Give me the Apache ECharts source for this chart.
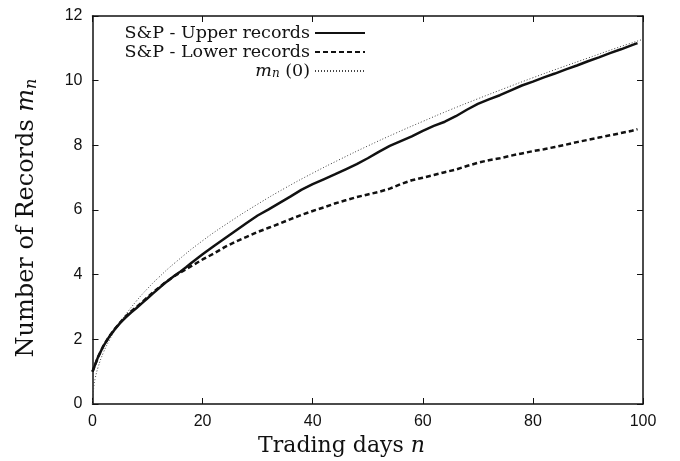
<!DOCTYPE html>
<html>
<head>
<meta charset="utf-8">
<script src="https://cdn.jsdelivr.net/npm/echarts@6/dist/echarts.min.js"></script>
<style>html,body{margin:0;padding:0;background:#fff}#c{width:680px;height:461px}</style>
</head>
<body>
<div id="c"></div>
<script>
// ---- data ----
const upperDays = [0,1,2,3,4,5,6,7,8,9,10,11,12,13,14,15,16,17,18,19,20,22,24,26,28,30,32,34,36,38,40,42,44,46,48,50,52,54,56,58,60,62,64,66,68,70,72,74,76,78,80,82,84,86,88,90,92,94,96,98,99];
const upperVals = [1.0,1.45,1.8,2.07,2.3,2.5,2.67,2.83,2.97,3.12,3.27,3.42,3.57,3.72,3.85,3.98,4.1,4.23,4.37,4.5,4.63,4.88,5.12,5.36,5.6,5.83,6.02,6.22,6.42,6.63,6.8,6.95,7.1,7.26,7.42,7.6,7.8,7.98,8.13,8.28,8.45,8.6,8.73,8.9,9.1,9.28,9.42,9.55,9.7,9.85,9.97,10.1,10.22,10.35,10.47,10.6,10.72,10.85,10.97,11.1,11.16];
const lowerDays = [0,1,2,3,4,5,6,7,8,9,10,11,12,13,14,15,16,17,18,19,20,22,24,26,28,30,32,34,36,38,40,42,44,46,48,50,52,54,56,58,60,62,64,66,68,70,72,74,76,78,80,82,84,86,88,90,92,94,96,98,99];
const lowerVals = [1.0,1.45,1.8,2.08,2.31,2.52,2.7,2.86,3.0,3.15,3.3,3.45,3.59,3.73,3.85,3.97,4.07,4.17,4.27,4.37,4.47,4.65,4.85,5.02,5.17,5.32,5.45,5.58,5.72,5.85,5.97,6.08,6.2,6.3,6.4,6.48,6.56,6.66,6.8,6.92,7.0,7.08,7.17,7.25,7.36,7.46,7.54,7.6,7.68,7.75,7.82,7.88,7.95,8.02,8.1,8.17,8.24,8.31,8.38,8.45,8.5];
const theoryDays = [0,0.25,0.5,1,2,3,4,5,6,8,10,12,15,20,25,30,35,40,45,50,55,60,65,70,75,80,85,90,95,100];
const theoryVals = [0,0.56,0.8,1.13,1.6,1.95,2.26,2.52,2.76,3.19,3.57,3.91,4.37,5.05,5.64,6.18,6.68,7.14,7.57,7.98,8.37,8.74,9.1,9.44,9.77,10.09,10.4,10.7,11.0,11.28];
const xTicks = [0,20,40,60,80,100];
const yTicks = [0,2,4,6,8,10,12];
const seriesNames = ['S&P - Upper records','S&P - Lower records','m_n (0)'];

const pair = (xs, ys) => xs.map((x, i) => [x, ys[i]]);
const serif = '"DejaVu Serif", "Liberation Serif", serif';
const sans = '"Liberation Sans", Arial, sans-serif';

const chart = echarts.init(document.getElementById('c'), null, {renderer: 'canvas'});
const axisLine = {show: true, onZero: false, lineStyle: {color: '#111', width: 1.5}};
const tickIn = {show: true, inside: true, length: 6, lineStyle: {color: '#111', width: 1}};
chart.setOption({
  animation: false,
  backgroundColor: '#fff',
  grid: {left: 92.5, right: 37, top: 16, bottom: 57, containLabel: false},
  xAxis: [
    {type: 'value', min: xTicks[0], max: xTicks[xTicks.length-1], interval: 20,
     axisLine, axisTick: tickIn, splitLine: {show: false},
     axisLabel: {color: '#111', fontFamily: sans, fontSize: 16, margin: 10}},
    {type: 'value', position: 'top', min: 0, max: 100, interval: 20,
     axisLine, axisTick: tickIn, splitLine: {show: false}, axisLabel: {show: false}}
  ],
  yAxis: [
    {type: 'value', min: yTicks[0], max: yTicks[yTicks.length-1], interval: 2,
     axisLine, axisTick: tickIn, splitLine: {show: false},
     axisLabel: {color: '#111', fontFamily: sans, fontSize: 16, margin: 10}},
    {type: 'value', position: 'right', min: 0, max: 12, interval: 2,
     axisLine, axisTick: tickIn, splitLine: {show: false}, axisLabel: {show: false}}
  ],
  legend: {
    orient: 'vertical', align: 'right', right: 309, top: 19,
    itemWidth: 50, itemHeight: 10, itemGap: 1,
    itemStyle: {opacity: 0},
    textStyle: {fontFamily: serif, fontSize: 17.5, color: '#111',
      rich: {
        i: {fontFamily: serif, fontStyle: 'italic', fontSize: 17.5, color: '#111'},
        s: {fontFamily: serif, fontStyle: 'italic', fontSize: 12, color: '#111', verticalAlign: 'bottom', padding: [6,0,0,0]},
        t: {fontFamily: serif, fontSize: 17.5, color: '#111'}
      }},
    formatter: n => n === seriesNames[2] ? '{i|m}{s|n}{t| (0)}' : n,
    data: seriesNames
  },
  series: [
    {name: seriesNames[0], type: 'line', data: pair(upperDays, upperVals), symbol: 'none',
     lineStyle: {color: '#111', width: 2.5, type: 'solid'}, z: 3},
    {name: seriesNames[1], type: 'line', data: pair(lowerDays, lowerVals), symbol: 'none',
     lineStyle: {color: '#111', width: 2.5, type: [5, 3]}, z: 2},
    {name: seriesNames[2], type: 'line', data: pair(theoryDays, theoryVals), symbol: 'none', smooth: true,
     lineStyle: {color: '#444', width: 1, type: [1, 2]}, z: 1}
  ],
  graphic: [
    {type: 'text', x: 341.5, y: 446,
     style: {text: '{t|Trading days }{i|n}', align: 'center', verticalAlign: 'middle', rich: {
       t: {fontFamily: serif, fontSize: 22, fill: '#111'},
       i: {fontFamily: serif, fontStyle: 'italic', fontSize: 22, fill: '#111'}}}},
    {type: 'text', x: 27, y: 218, rotation: Math.PI/2,
     style: {text: '{t|Number of Records }{i|m}{s|n}', align: 'center', verticalAlign: 'middle', rich: {
       t: {fontFamily: serif, fontSize: 24, fill: '#111'},
       i: {fontFamily: serif, fontStyle: 'italic', fontSize: 24, fill: '#111'},
       s: {fontFamily: serif, fontStyle: 'italic', fontSize: 16, fill: '#111', padding: [10,0,0,0]}}}}
  ]
});
</script>
</body>
</html>
